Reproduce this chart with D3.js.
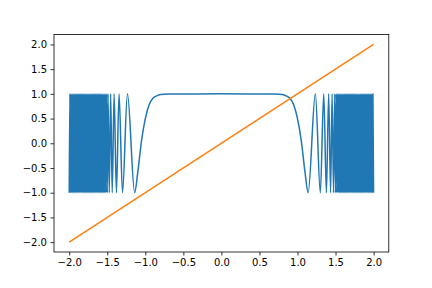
<!DOCTYPE html>
<html>
<head>
<meta charset="utf-8">
<script src="https://cdn.jsdelivr.net/npm/d3@7"></script>
<style>
  body { margin: 0; background: white; }
  svg { display: block; font-family: 'DejaVu Sans', sans-serif; }
  .tick text { font-size: 10px; fill: black; }
</style>
</head>
<body>
<svg id="svg_chart" width="432" height="288"></svg>
<script>

// data
// blue wave: [x, y] points, extrema on the dense sides
const waveLeft = [
  [-2.0, -1], [-1.991, 1], [-1.984, -1], [-1.977, 1], [-1.97, -1], [-1.963, 1], [-1.956, -1], [-1.949, 1],
  [-1.942, -1], [-1.935, 1], [-1.928, -1], [-1.921, 1], [-1.914, -1], [-1.907, 1], [-1.90, -1], [-1.893, 1],
  [-1.886, -1], [-1.879, 1], [-1.872, -1], [-1.865, 1], [-1.858, -1], [-1.851, 1], [-1.844, -1], [-1.837, 1],
  [-1.83, -1], [-1.823, 1], [-1.816, -1], [-1.809, 1], [-1.802, -1], [-1.795, 1], [-1.788, -1], [-1.781, 1],
  [-1.774, -1], [-1.767, 1], [-1.76, -1], [-1.753, 1], [-1.746, -1], [-1.739, 1], [-1.732, -1], [-1.725, 1],
  [-1.718, -1], [-1.711, 1], [-1.704, -1], [-1.697, 1], [-1.69, -1], [-1.683, 1], [-1.676, -1], [-1.669, 1],
  [-1.662, -1], [-1.655, 1], [-1.648, -1], [-1.641, 1], [-1.634, -1], [-1.627, 1], [-1.62, -1], [-1.613, 1],
  [-1.606, -1], [-1.599, 1], [-1.592, -1], [-1.585, 1], [-1.578, -1], [-1.571, 1], [-1.564, -1], [-1.557, 1],
  [-1.55, -1], [-1.542, 1], [-1.534, -1], [-1.526, 1], [-1.518, -1], [-1.509, 1], [-1.50, -1], [-1.49, 1],
  [-1.474, -1], [-1.455, 1], [-1.435, -1], [-1.41, 1], [-1.38, -1], [-1.345, 1], [-1.30, -1], [-1.235, 1]
];

const waveMiddle = [
  [-1.14, -1], [-1.10, -0.6], [-1.05, 0.05], [-1.0, 0.5], [-0.95, 0.78], [-0.9, 0.91],
  [-0.85, 0.96], [-0.8, 0.985], [-0.7, 0.998], [0.0, 1], [0.7, 0.998], [0.8, 0.985],
  [0.85, 0.96], [0.9, 0.91], [0.95, 0.78], [1.0, 0.5], [1.05, 0.05], [1.10, -0.6], [1.14, -1]
];

const waveRight = [
  [1.235, 1], [1.30, -1], [1.345, 1], [1.38, -1], [1.41, 1], [1.435, -1], [1.455, 1], [1.474, -1],
  [1.49, 1], [1.50, -1], [1.509, 1], [1.518, -1], [1.526, 1], [1.534, -1], [1.542, 1], [1.55, -1],
  [1.557, 1], [1.564, -1], [1.571, 1], [1.578, -1], [1.585, 1], [1.592, -1], [1.599, 1], [1.606, -1],
  [1.613, 1], [1.62, -1], [1.627, 1], [1.634, -1], [1.641, 1], [1.648, -1], [1.655, 1], [1.662, -1],
  [1.669, 1], [1.676, -1], [1.683, 1], [1.69, -1], [1.697, 1], [1.704, -1], [1.711, 1], [1.718, -1],
  [1.725, 1], [1.732, -1], [1.739, 1], [1.746, -1], [1.753, 1], [1.76, -1], [1.767, 1], [1.774, -1],
  [1.781, 1], [1.788, -1], [1.795, 1], [1.802, -1], [1.809, 1], [1.816, -1], [1.823, 1], [1.83, -1],
  [1.837, 1], [1.844, -1], [1.851, 1], [1.858, -1], [1.865, 1], [1.872, -1], [1.879, 1], [1.886, -1],
  [1.893, 1], [1.90, -1], [1.907, 1], [1.914, -1], [1.921, 1], [1.928, -1], [1.935, 1], [1.942, -1],
  [1.949, 1], [1.956, -1], [1.963, 1], [1.97, -1], [1.977, 1], [1.984, -1], [1.991, 1], [2.0, -1]
];

// orange straight line
const lineX = [-2, 2];
const lineY = [-2, 2];

const xTicks = [-2.0, -1.5, -1.0, -0.5, 0.0, 0.5, 1.0, 1.5, 2.0];
const yTicks = [-2.0, -1.5, -1.0, -0.5, 0.0, 0.5, 1.0, 1.5, 2.0];

const c1 = '#1f77b4';
const c2 = '#ff7f0e';

function chart(_svg) {

  // variables
  const svg = d3.select(`#svg_${_svg}`);

  const width = 432,
    height = 288,
    padLeft = 54,
    padRight = 43.2,
    padTop = 34.56,
    padBottom = 36;

  const innerWidth = width - padLeft - padRight;
  const innerHeight = height - padTop - padBottom;

  // background
  svg.selectAll('.bgRect').data([null])
    .join('rect')
    .attr('class', 'bgRect')
    .attr('width', width)
    .attr('height', height)
    .attr('fill', 'white');

  let pad = svg.selectAll('#pad').data([null])
    .join('g')
    .attr('id', 'pad')
    .attr('transform', `translate(${padLeft}, ${padTop})`);

  // scales, 5% margins like matplotlib
  const x = d3.scaleLinear()
    .domain([-2.2, 2.2])
    .range([0, innerWidth]);

  const y = d3.scaleLinear()
    .domain([-2.2, 2.2])
    .range([innerHeight, 0]);

  const format = d3.format('.1f');

  // axes
  const xAxis = d3.axisBottom(x)
    .tickValues(xTicks)
    .tickFormat(format)
    .tickSize(3.5)
    .tickPadding(3.5);

  const yAxis = d3.axisLeft(y)
    .tickValues(yTicks)
    .tickFormat(format)
    .tickSize(3.5)
    .tickPadding(3.5);

  pad.selectAll('.xAxis').data([null])
    .join('g')
    .attr('class', 'xAxis')
    .attr('transform', `translate(0,${innerHeight})`)
    .call(xAxis)
    .call(g => g.select('.domain').remove())
    .call(g => g.selectAll('.tick line').attr('stroke', 'black').attr('stroke-width', 0.8))
    .call(g => g.selectAll('.tick text').attr('font-family', 'DejaVu Sans').attr('font-size', 10));

  pad.selectAll('.yAxis').data([null])
    .join('g')
    .attr('class', 'yAxis')
    .call(yAxis)
    .call(g => g.select('.domain').remove())
    .call(g => g.selectAll('.tick line').attr('stroke', 'black').attr('stroke-width', 0.8))
    .call(g => g.selectAll('.tick text').attr('font-family', 'DejaVu Sans').attr('font-size', 10));

  // lines
  const waveLine = d3.line()
    .x(d => x(d[0]))
    .y(d => y(d[1]))
    .curve(d3.curveMonotoneX);

  const wave = waveLeft.concat(waveMiddle, waveRight);

  pad.selectAll('.wave').data([wave])
    .join('path')
    .attr('class', 'wave')
    .attr('d', waveLine)
    .style('fill', 'none')
    .style('stroke', c1)
    .style('stroke-width', 1.5)
    .style('stroke-linejoin', 'round');

  const straight = lineX.map((d, i) => [d, lineY[i]]);

  pad.selectAll('.straight').data([straight])
    .join('path')
    .attr('class', 'straight')
    .attr('d', d3.line().x(d => x(d[0])).y(d => y(d[1])))
    .style('fill', 'none')
    .style('stroke', c2)
    .style('stroke-width', 1.5);

  // frame
  pad.selectAll('.frame').data([null])
    .join('rect')
    .attr('class', 'frame')
    .attr('width', innerWidth)
    .attr('height', innerHeight)
    .style('fill', 'none')
    .style('stroke', 'black')
    .style('stroke-width', 0.8);
}

chart('chart');
</script>
</body>
</html>
